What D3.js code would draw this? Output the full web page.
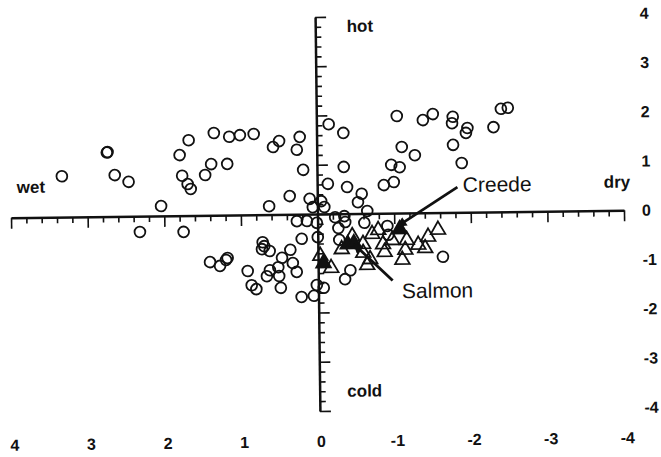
<!DOCTYPE html>
<html>
<head>
<meta charset="utf-8">
<script src="https://cdn.jsdelivr.net/npm/d3@7"></script>
<style>
  body { margin: 0; background: #fff; }
  svg { display: block; }
</style>
</head>
<body>
<svg id="chart" width="661" height="457"></svg>
<script>
// Axis ticks and their labels (x runs from wet on the left to dry on the right)
const xTickValues = [4, 3, 2, 1, 0, -1, -2, -3, -4];
const xTickLabels = ["4", "3", "2", "1", "0", "-1", "-2", "-3", "-4"];
const yTickValues = [4, 3, 2, 1, 0, -1, -2, -3, -4];
const yTickLabels = ["4", "3", "2", "1", "0", "-1", "-2", "-3", "-4"];

// Reference sites (open circles): [x, y]
const sites = [
  [3.33, 0.83], [2.74, 1.30], [2.73, 1.31], [2.64, 0.84], [2.46, 0.70], [2.04, 0.20],
  [1.79, 1.23], [1.67, 1.53], [1.76, 0.81], [1.69, 0.64], [1.65, 0.54], [1.46, 0.82],
  [1.38, 1.04], [1.34, 1.67], [1.17, 1.04], [1.14, 1.59], [1.00, 1.62], [0.82, 1.64],
  [0.63, 0.17], [0.57, 1.37], [0.49, 1.49], [0.36, 0.37], [0.26, 1.31], [0.22, 1.57],
  [0.18, 0.90], [0.10, 0.31], [0.06, 0.14], [-0.05, 0.26], [-0.09, 0.14], [-0.16, 1.82],
  [-0.14, 0.61],
  [-0.35, 1.64], [-0.35, 0.95], [-0.39, 0.54], [-0.58, 0.40], [-0.53, 0.23], [-0.65, 0.05],
  [-0.87, 0.57], [-1.00, 0.63], [-0.97, 0.98], [-1.08, 0.93], [-1.11, 1.34], [-1.28, 1.17],
  [-1.05, 1.97], [-1.39, 1.88], [-1.52, 2.00], [-1.78, 1.94], [-1.77, 1.81], [-1.97, 1.71],
  [-1.95, 1.61], [-1.89, 1.00], [-1.78, 1.37], [-2.31, 1.72], [-2.41, 2.09], [-2.50, 2.11],
  [2.32, -0.32], [1.75, -0.33], [1.41, -0.95], [1.28, -1.03], [1.20, -0.91], [1.18, -0.87],
  [0.92, -1.14], [0.87, -1.43], [0.81, -1.51], [0.72, -0.56], [0.70, -0.64], [0.73, -0.70],
  [0.63, -0.74], [0.67, -1.25], [0.63, -1.13], [0.52, -1.07], [0.51, -1.25], [0.47, -0.88],
  [0.36, -0.72], [0.33, -0.99], [0.28, -1.17], [0.49, -1.49], [0.22, -1.68], [0.06, -1.66],
  [0.02, -1.44], [-0.07, -1.50], [0.27, -0.14], [0.14, -0.14], [0.01, -0.18], [0.21, -0.50],
  [0.00, -0.47], [-0.23, -0.07], [-0.35, -0.05], [-0.36, -0.17], [-0.61, -0.19], [-0.27, -0.29],
  [-0.28, -0.53], [-0.42, -1.15], [-0.35, -1.33], [-0.91, -0.26], [-0.92, -0.44], [-1.63, -0.90]
];

// Study sites (open triangles): [x, y]
const studySites = [
  [-0.03, -0.85], [-0.17, -1.10], [-0.31, -0.72], [-0.59, -0.62], [-0.71, -0.42],
  [-0.79, -0.34], [-0.85, -0.63], [-0.59, -0.80], [-0.68, -0.93], [-0.64, -1.05],
  [-0.97, -0.55], [-1.16, -0.55], [-1.14, -0.75], [-1.10, -0.95], [-1.31, -0.65],
  [-1.40, -0.72], [-1.44, -0.49], [-1.57, -0.35], [-0.87, -0.79], [-0.45, -0.46]
];

// Highlighted sites (filled triangles): [x, y]
const highlighted = [
  [-0.39, -0.62], [-0.47, -0.60], [-1.07, -0.33], [-0.07, -1.00]
];

// Corner words
const directionNames = ["hot", "cold", "wet", "dry"];
const directionAt = [[-0.41, 3.69], [-0.36, -3.72], [3.92, 0.50], [-3.74, 0.46]];

// Named callouts: label, label anchor, arrow start, arrow tip
const calloutNames = ["Creede", "Salmon"];
const calloutLabelAt = [[-1.90, 0.41], [-1.09, -1.73]];
const calloutFrom = [[-1.83, 0.51], [-0.97, -1.37]];
const calloutTo = [[-1.04, -0.27], [-0.47, -0.62]];

const svg = d3.select("#chart");
const W = 661, H = 457;
svg.append("rect").attr("width", W).attr("height", H).attr("fill", "#fff");

const x = d3.scaleLinear().domain([4, -4]).range([11, 624]);
const y = d3.scaleLinear().domain([-4, 4]).range([411, 17]);

const ink = "#111";
const cx = x(0), cy = y(0);

// whole figure sits at a slight tilt
const g = svg.append("g").attr("transform", `rotate(-0.7 ${cx} ${cy})`);

// minor / major tick positions
const minor = d3.range(-20, 21).map(d => d / 5).filter(d => Math.abs(d - Math.round(d)) > 1e-6);

// horizontal axis through y = 0, ticks hanging down
const xMinorAxis = d3.axisBottom(x).tickValues(minor).tickSize(6).tickFormat("").tickSizeOuter(0);
const xMajorAxis = d3.axisBottom(x).tickValues(xTickValues).tickSize(11).tickFormat("").tickSizeOuter(0);
const gx1 = g.append("g").attr("transform", `translate(0,${cy})`).call(xMinorAxis);
const gx2 = g.append("g").attr("transform", `translate(0,${cy})`).call(xMajorAxis);
gx1.select(".domain").attr("stroke", ink).attr("stroke-width", 2.5);
gx2.select(".domain").remove();

// vertical axis through x = 0, ticks to the right
const yMinorAxis = d3.axisRight(y).tickValues(minor).tickSize(6).tickFormat("").tickSizeOuter(0);
const yMajorAxis = d3.axisRight(y).tickValues(yTickValues).tickSize(11).tickFormat("").tickSizeOuter(0);
const gy1 = g.append("g").attr("transform", `translate(${cx},0)`).call(yMinorAxis);
const gy2 = g.append("g").attr("transform", `translate(${cx},0)`).call(yMajorAxis);
gy1.select(".domain").attr("stroke", ink).attr("stroke-width", 2.5);
gy2.select(".domain").remove();

g.selectAll(".tick line").attr("stroke", ink).attr("stroke-width", 1.6);

// tick labels: along the bottom for x, down the right edge for y
const labelFont = "'Liberation Sans', Arial, sans-serif";
g.append("g").selectAll("text").data(xTickValues).join("text")
  .attr("x", d => x(d) + 1)
  .attr("y", 447)
  .attr("text-anchor", "middle")
  .attr("font-family", labelFont)
  .attr("font-weight", "bold")
  .attr("font-size", 16)
  .attr("fill", ink)
  .text((d, i) => xTickLabels[i]);

g.append("g").selectAll("text").data(yTickValues).join("text")
  .attr("x", 642)
  .attr("y", d => y(d))
  .attr("dy", "0.36em")
  .attr("text-anchor", "start")
  .attr("font-family", labelFont)
  .attr("font-weight", "bold")
  .attr("font-size", 16)
  .attr("fill", ink)
  .text((d, i) => yTickLabels[i]);

// corner words
g.append("g").selectAll("text").data(directionNames).join("text")
  .attr("x", (d, i) => x(directionAt[i][0]))
  .attr("y", (d, i) => y(directionAt[i][1]))
  .attr("font-family", labelFont)
  .attr("font-weight", "bold")
  .attr("font-size", 17)
  .attr("fill", ink)
  .text(d => d);

// reference sites
g.append("g").selectAll("circle").data(sites).join("circle")
  .attr("cx", d => x(d[0]))
  .attr("cy", d => y(d[1]))
  .attr("r", 5.4)
  .attr("fill", "none")
  .attr("stroke", ink)
  .attr("stroke-width", 1.8);

// study sites
const tri = d3.symbol().type(d3.symbolTriangle).size(92);
g.append("g").selectAll("path").data(studySites).join("path")
  .attr("d", tri)
  .attr("transform", d => `translate(${x(d[0])},${y(d[1])})`)
  .attr("fill", "none")
  .attr("stroke", ink)
  .attr("stroke-width", 1.8)
  .attr("stroke-linejoin", "miter");

g.append("g").selectAll("path").data(highlighted).join("path")
  .attr("d", tri)
  .attr("transform", d => `translate(${x(d[0])},${y(d[1])})`)
  .attr("fill", ink)
  .attr("stroke", ink)
  .attr("stroke-width", 1.8);

// callout arrows
svg.append("defs").append("marker")
  .attr("id", "head")
  .attr("viewBox", "0 0 10 10")
  .attr("refX", 9).attr("refY", 5)
  .attr("markerUnits", "userSpaceOnUse")
  .attr("markerWidth", 12).attr("markerHeight", 10)
  .attr("orient", "auto")
  .append("path").attr("d", "M0,0 L10,5 L0,10 Z").attr("fill", ink);

g.append("g").selectAll("line").data(calloutNames).join("line")
  .attr("x1", (d, i) => x(calloutFrom[i][0]))
  .attr("y1", (d, i) => y(calloutFrom[i][1]))
  .attr("x2", (d, i) => x(calloutTo[i][0]))
  .attr("y2", (d, i) => y(calloutTo[i][1]))
  .attr("stroke", ink)
  .attr("stroke-width", 2.8)
  .attr("marker-end", "url(#head)");

g.append("g").selectAll("text").data(calloutNames).join("text")
  .attr("x", (d, i) => x(calloutLabelAt[i][0]))
  .attr("y", (d, i) => y(calloutLabelAt[i][1]))
  .attr("font-family", labelFont)
  .attr("font-size", 21)
  .attr("fill", ink)
  .text(d => d);
</script>
</body>
</html>
